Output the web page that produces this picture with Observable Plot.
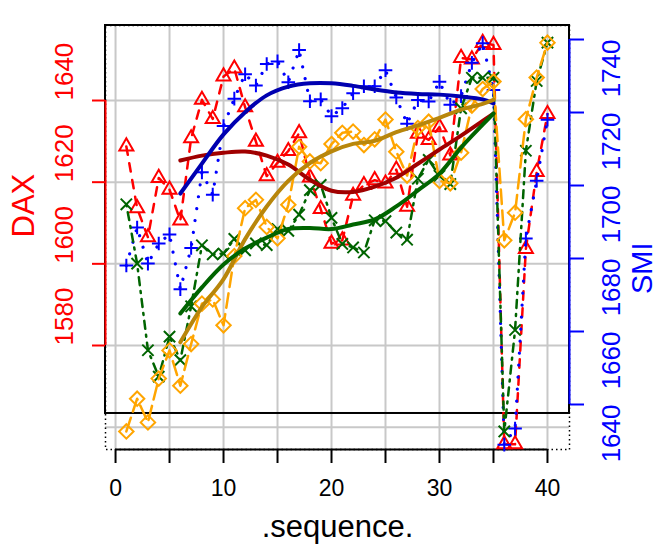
<!DOCTYPE html>
<html><head><meta charset="utf-8">
<script src="https://cdn.jsdelivr.net/npm/d3@7"></script>
<script src="https://cdn.jsdelivr.net/npm/@observablehq/plot@0.6"></script>
<style>body{margin:0;background:#fff}</style>
</head><body><div id="chart"></div>
<script>
// ---- data (first 40 observations, as shown; off-scale points read at their displayed position) ----
const sequence = [1,2,3,4,5,6,7,8,9,10,11,12,13,14,15,16,17,18,19,20,21,22,23,24,25,26,27,28,29,30,31,32,33,34,35,36,37,38,39,40];
const dax  = [1628.75,1613.63,1606.51,1621.04,1618.16,1610.61,1630.75,1640.17,1635.47,1645.89,1647.84,1638.35,1629.93,1621.49,1624.74,1627.63,1631.99,1621.18,1613.42,1604.95,1605.75,1616.67,1619.29,1620.49,1619.67,1623.07,1613.98,1631.87,1630.37,1633.47,1626.55,1650.43,1650.06,1654.11,1653.60,1555.8,1555.8,1603.65,1622.49,1636.68];
const smi  = [1678.1,1688.5,1678.6,1684.1,1686.6,1671.6,1682.9,1703.6,1697.5,1716.3,1723.8,1730.5,1727.4,1733.3,1734.0,1728.3,1737.1,1723.1,1723.6,1719.0,1721.2,1725.3,1727.2,1727.2,1731.6,1724.1,1716.9,1723.4,1723.0,1728.4,1722.1,1724.5,1733.6,1739.0,1726.2,1629.0,1633.4,1685.5,1701.3,1718.0];
const cac  = [1772.8,1750.5,1718.0,1708.1,1723.1,1714.3,1734.5,1757.4,1754.0,1754.3,1759.8,1755.5,1758.1,1757.5,1763.5,1762.8,1768.9,1778.1,1780.1,1767.7,1757.9,1756.6,1754.7,1766.8,1766.5,1762.2,1759.5,1782.4,1789.5,1783.5,1780.4,1808.8,1820.3,1820.3,1820.3,1687.5,1725.6,1792.9,1819.1,1833.5];
const ftse = [2443.6,2460.2,2448.2,2470.4,2484.7,2466.8,2487.9,2508.4,2510.5,2497.4,2532.5,2556.8,2561.0,2547.3,2541.5,2558.5,2587.9,2580.5,2579.6,2589.3,2595.0,2595.6,2588.8,2591.7,2601.7,2585.4,2573.3,2597.4,2600.6,2570.6,2569.4,2584.9,2608.8,2617.2,2621.0,2540.5,2554.5,2601.9,2623.0,2640.7];

// smoothed curves
const smoothSeq  = [6,8,10,12,14,16,18,20,22,24,26,28,30,32,34,35];
const daxSmooth  = [1625.3,1626.5,1627.2,1627.5,1626.5,1624.3,1620.6,1617.9,1617.6,1618.9,1621.1,1624.5,1628.0,1631.4,1635.0,1636.8];
const smiSmooth  = [1697.8,1706.0,1714.0,1720.1,1724.7,1727.1,1728.0,1728.0,1727.3,1726.3,1725.5,1725.1,1724.9,1724.4,1723.6,1722.5];
const cacSmooth  = [1731.8,1741.6,1750.2,1756.2,1760.3,1763.5,1763.9,1763.5,1765.2,1767.1,1772.0,1778.0,1784.3,1794.1,1802.7,1806.9];
const ftseSmooth = [2488.8,2506.6,2520.8,2541.1,2557.6,2570.6,2579.7,2585.6,2589.4,2590.9,2595.3,2598.8,2602.6,2606.7,2609.7,2611.7];

// ticks
const xTicks   = [0,5,10,15,20,25,30,35,40];
const xLabels  = [0,10,20,30,40];
const daxTicks = [1580,1600,1620,1640];
const smiTicks = [1640,1660,1680,1700,1720,1740];
const yGrid    = [1560,1580,1600,1620,1640];

// ---- scales ----
const xDomain = [-0.93, 42.04];
const yDomain = [1554.53, 1658.37];     // DAX units
const boxBottom = 1563.35;              // DAX value at the lower edge of the solid box
const smi2y  = d3.scaleLinear().domain([1627.67, 1743.84]).range(yDomain);
const cac2y  = d3.scaleLinear().domain([1687.5, 1833.5]).range([1558.95, 1654.17]);
const ftse2y = d3.scaleLinear().domain([2443.6, 2640.7]).range([1558.95, 1654.17]);

const rows = sequence.map((s, i) => ({s, dax: dax[i], smi: smi2y(smi[i]), cac: cac2y(cac[i]), ftse: ftse2y(ftse[i])}));
const srows = smoothSeq.map((s, i) => ({s, dax: daxSmooth[i], smi: smi2y(smiSmooth[i]), cac: cac2y(cacSmooth[i]), ftse: ftse2y(ftseSmooth[i])}));

const font = "Liberation Sans, Arial, Helvetica, sans-serif";
const grid = "#c8c8c8";

const chart = Plot.plot({
  width: 661, height: 547,
  marginTop: 25, marginBottom: 98, marginLeft: 105, marginRight: 92,
  x: {domain: xDomain},
  y: {domain: yDomain},
  style: {fontFamily: font, background: "white"},
  marks: [
    Plot.ruleX(xTicks, {x: d => d, stroke: grid, strokeWidth: 2}),
    Plot.ruleY(yGrid, {y: d => d, stroke: grid, strokeWidth: 2}),
    Plot.frame({stroke: "black", strokeWidth: 1.5, strokeDasharray: "1.5,3"}),
    Plot.rect([0], {x1: xDomain[0], x2: xDomain[1], y1: boxBottom, y2: yDomain[1], fill: "none", stroke: "black", strokeWidth: 2}),
    Plot.ruleY([yDomain[0]], {x1: 0, x2: 40, stroke: "black", strokeWidth: 2}),
    Plot.axisX(xTicks, {tickSize: 14, strokeWidth: 2, tickFormat: () => "", label: null}),
    Plot.text(xLabels, {x: d => d, frameAnchor: "bottom", dy: 46, lineAnchor: "bottom", text: d => String(d), fontSize: 23, fill: "black"}),
    Plot.text([".sequence."], {frameAnchor: "bottom", dy: 87, lineAnchor: "bottom", text: d => d, fontSize: 31, fill: "black"}),

    // left DAX axis
    Plot.ruleX([xDomain[0]], {y1: daxTicks[0], y2: daxTicks[daxTicks.length - 1], stroke: "red", strokeWidth: 2}),
    Plot.axisY(daxTicks, {anchor: "left", tickSize: 13, color: "red", strokeWidth: 2, tickFormat: () => "", label: null}),
    Plot.text(daxTicks, {y: d => d, frameAnchor: "left", dx: -41, rotate: -90, text: d => String(d), fill: "red", fontSize: 26}),
    Plot.text(["DAX"], {frameAnchor: "left", dx: -81.5, rotate: -90, text: d => d, fill: "red", fontSize: 31}),

    // right SMI axis
    Plot.ruleX([xDomain[1]], {y1: smi2y(smiTicks[0]), y2: smi2y(smiTicks[smiTicks.length - 1]), stroke: "blue", strokeWidth: 2}),
    Plot.axisY(smiTicks.map(smi2y), {anchor: "right", tickSize: 14, color: "blue", strokeWidth: 2, tickFormat: () => "", label: null}),
    Plot.text(smiTicks, {y: d => smi2y(d), frameAnchor: "right", dx: 42, rotate: -90, text: d => String(d), fill: "blue", fontSize: 26}),
    Plot.text(["SMI"], {frameAnchor: "right", dx: 73, dy: 5, rotate: -90, text: d => d, fill: "blue", fontSize: 29}),

    // series
    Plot.line(rows, {x: "s", y: "dax", stroke: "red", strokeWidth: 2.5, strokeDasharray: "8.5,8.5"}),
    Plot.dot(rows, {x: "s", y: "dax", symbol: "triangle2", r: 6.7, stroke: "red", strokeWidth: 2, fill: "none"}),
    Plot.line(rows, {x: "s", y: "smi", stroke: "blue", strokeWidth: 3.2, strokeDasharray: "0.01,12", strokeLinecap: "round"}),
    Plot.dot(rows, {x: "s", y: "smi", symbol: "plus", r: 4.45, stroke: "blue", strokeWidth: 2, fill: "none"}),
    Plot.line(rows, {x: "s", y: "cac", stroke: "#006400", strokeWidth: 2.5, strokeDasharray: "2,6,8,6"}),
    Plot.dot(rows, {x: "s", y: "cac", symbol: "times", r: 5.2, stroke: "#006400", strokeWidth: 2, fill: "none"}),
    Plot.line(rows, {x: "s", y: "ftse", stroke: "orange", strokeWidth: 2.5, strokeDasharray: "14.5,6.5"}),
    Plot.dot(rows, {x: "s", y: "ftse", symbol: "diamond2", r: 6.5, stroke: "orange", strokeWidth: 2, fill: "none"}),

    // smooths
    Plot.line(srows, {x: "s", y: "dax", stroke: "#a00000", strokeWidth: 4, curve: "catmull-rom"}),
    Plot.line(srows, {x: "s", y: "smi", stroke: "#0000b0", strokeWidth: 4, curve: "catmull-rom"}),
    Plot.line(srows, {x: "s", y: "ftse", stroke: "#b8860b", strokeWidth: 4, curve: "catmull-rom"}),
    Plot.line(srows, {x: "s", y: "cac", stroke: "#006400", strokeWidth: 4, curve: "catmull-rom"})
  ]
});
document.getElementById("chart").appendChild(chart);
</script>
</body></html>
